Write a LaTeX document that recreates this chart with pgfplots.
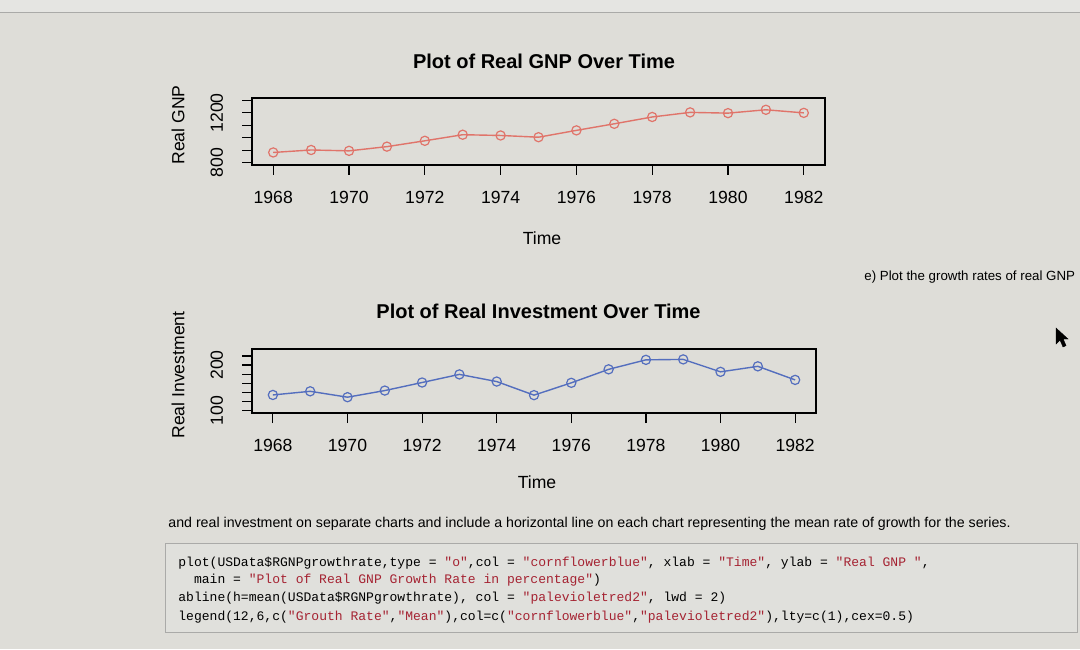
\documentclass[border=0pt]{standalone}
\usepackage{pgfplots}
\pgfplotsset{compat=1.18}
\usepackage{fontspec}
\setmainfont{Liberation Sans}
\setmonofont{Liberation Mono}
\definecolor{bg}{RGB}{222,221,216}
\definecolor{bgtop}{RGB}{229,229,226}
\definecolor{gnpred}{RGB}{224,116,106}
\definecolor{invblue}{RGB}{84,110,190}
\definecolor{codered}{RGB}{165,35,50}
\definecolor{codebg}{RGB}{224,224,220}
\definecolor{codeborder}{RGB}{170,170,168}
\pgfplotsset{rstyle/.style={
  scale only axis,
  axis line style={black, line width=0.6pt},
  tick style={black, line width=0.6pt},
  tick align=outside,
  major tick length=5pt,
  xtick pos=bottom, ytick pos=left,
  tick label style={font=\fontsize{8.8}{10}\selectfont},
  yticklabel style={rotate=90, anchor=south},
  yticklabel shift=6pt,
  xticklabel shift=4.5pt,
  xmin=1967.44, xmax=1982.56,
  xtick={1968,1970,1972,1974,1976,1978,1980,1982},
  xticklabels={1968,1970,1972,1974,1976,1978,1980,1982},
  clip=false,
}}
\begin{document}
\begin{tikzpicture}[x=1pt,y=1pt]
\useasboundingbox (0,0) rectangle (540,324.5);
\clip (0,0) rectangle (540,324.5);
\fill[bg] (0,0) rectangle (540,324.5);
\fill[bgtop] (0,318.5) rectangle (540,324.5);
\draw[codeborder, line width=0.4pt] (0,318.5) -- (540,318.5);

% ---- Top chart: Real GNP
\begin{axis}[rstyle, at={(126pt,242pt)}, anchor=south west,
  width=286.5pt, height=33.5pt,
  ymin=780, ymax=1320,
  ytick={800,900,1000,1100,1200,1300},
  yticklabels={800,,,,1200,}]
\addplot[color=gnpred, line width=0.7pt, mark=o, mark size=2.3pt,
  mark options={solid, line width=0.6pt}] coordinates {
(1968,881) (1969,901) (1970,894) (1971,928) (1972,975)
(1973,1024) (1974,1018) (1975,1004) (1976,1059) (1977,1112)
(1978,1167) (1979,1204) (1980,1198) (1981,1225) (1982,1200)};
\end{axis}

% ---- Bottom chart: Real Investment
\begin{axis}[rstyle, at={(126pt,118pt)}, anchor=south west,
  width=282pt, height=32pt,
  ymin=94.8, ymax=235.2,
  ytick={100,120,140,160,180,200,220},
  yticklabels={100,,,,,200,}]
\addplot[color=invblue, line width=0.7pt, mark=o, mark size=2.3pt,
  mark options={solid, line width=0.6pt}] coordinates {
(1968,134.4) (1969,142.4) (1970,129.5) (1971,144.0) (1972,161.7)
(1973,179.5) (1974,163.8) (1975,134.0) (1976,161.0) (1977,190.6)
(1978,211.4) (1979,212.4) (1980,185.1) (1981,197.2) (1982,167.4)};
\end{axis}

% titles and axis labels
\node[anchor=base, font=\fontsize{10}{12}\selectfont\bfseries] at (272,290) {Plot of Real GNP Over Time};
\node[anchor=base, font=\fontsize{10}{12}\selectfont\bfseries] at (269.25,165.5) {Plot of Real Investment Over Time};
\node[anchor=base, font=\fontsize{8.8}{10}\selectfont] at (271,202.5) {Time};
\node[anchor=base, font=\fontsize{8.8}{10}\selectfont] at (268.5,80.5) {Time};
\node[rotate=90, font=\fontsize{8.8}{10}\selectfont] at (89,262) {Real GNP};
\node[rotate=90, font=\fontsize{8.8}{10}\selectfont] at (89,137) {Real Investment};

% surrounding page text
\node[anchor=base west, inner sep=0pt, font=\fontsize{6.65}{8}\selectfont] at (432,184.5) {e) Plot the growth rates of real GNP};
\node[anchor=base west, inner sep=0pt, font=\fontsize{7.1}{8.5}\selectfont] at (84,60.75) {and real investment on separate charts and include a horizontal line on each chart representing the mean rate of growth for the series.};

% code box
\filldraw[fill=codebg, draw=codeborder, line width=0.5pt] (82.5,8.5) rectangle (538.6,53);
\begin{scope}[every node/.style={anchor=base west, inner sep=0pt, font=\ttfamily\fontsize{6.52}{8}\selectfont}]
\node at (89,41.25) {plot(USData\$RGNPgrowthrate,type = \textcolor{codered}{"o"},col = \textcolor{codered}{"cornflowerblue"}, xlab = \textcolor{codered}{"Time"}, ylab = \textcolor{codered}{"Real GNP "},};
\node at (89,32.75) {\phantom{xx}main = \textcolor{codered}{"Plot of Real GNP Growth Rate in percentage"})};
\node at (89,23.75) {abline(h=mean(USData\$RGNPgrowthrate), col = \textcolor{codered}{"palevioletred2"}, lwd = 2)};
\node at (89,14.25) {legend(12,6,c(\textcolor{codered}{"Grouth Rate"},\textcolor{codered}{"Mean"}),col=c(\textcolor{codered}{"cornflowerblue"},\textcolor{codered}{"palevioletred2"}),lty=c(1),cex=0.5)};
\end{scope}

% mouse cursor
\filldraw[black, line width=0.2pt, fill=black] (528,160.5) -- (528,152.5) -- (530,154.5) -- (531.5,151) -- (533,151.7) -- (531.6,155) -- (534,155) -- cycle;
\end{tikzpicture}
\end{document}
